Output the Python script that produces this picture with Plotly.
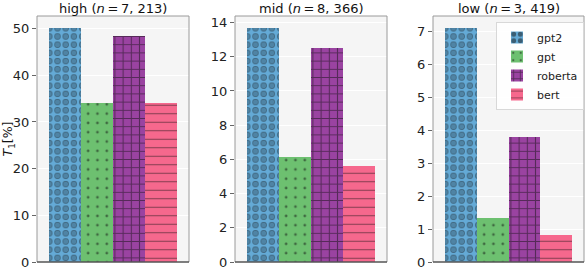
import plotly.graph_objects as go

# ---- data ----
panels = ["high", "mid", "low"]
panel_n = ["7, 213", "8, 366", "3, 419"]
models = ["gpt2", "gpt", "roberta", "bert"]
high_vals = [50.2, 34.1, 48.5, 34.1]
mid_vals = [13.7, 6.15, 12.5, 5.6]
low_vals = [7.1, 1.33, 3.8, 0.82]
y_dticks = [10, 2, 1]

values = [high_vals, mid_vals, low_vals]

colors = {"gpt2": "#64aad6", "gpt": "#6dc070", "roberta": "#9a43a1", "bert": "#f6688d"}
patterns = {
    "gpt2": dict(shape=".", fgcolor="#111111", size=8.2, solidity=0.45),
    "gpt": dict(shape=".", fgcolor="#111111", size=9.3, solidity=0.07),
    "roberta": dict(shape="+", fgcolor="#111111", size=8.2, solidity=0.24),
    "bert": dict(shape="-", fgcolor="#111111", size=8.5, solidity=0.12),
}

W, H = 586, 268
x_doms = [(37, 189), (235, 387), (433, 584)]
y_top, y_bot = 16, 262
ydom = [(H - y_bot) / H, (H - y_top) / H]

fig = go.Figure()
FONT = "DejaVu Sans"

for p, vals in enumerate(values):
    xa = "x" if p == 0 else f"x{p+1}"
    ya = "y" if p == 0 else f"y{p+1}"
    for i, m in enumerate(models):
        pat = dict(patterns[m])
        fig.add_trace(go.Bar(
            x=[i], y=[vals[i]], width=1, name=m, legendgroup=m,
            showlegend=(p == 0),
            marker=dict(color=colors[m], line=dict(width=0), pattern=pat),
            xaxis=xa, yaxis=ya,
        ))
        if m == "gpt2":
            # inner hole of the rings
            fig.add_trace(go.Bar(
                x=[i], y=[vals[i]], width=1, name=m, legendgroup=m,
                showlegend=False,
                marker=dict(color="rgba(0,0,0,0)", line=dict(width=0),
                            pattern=dict(shape=".", fgcolor=colors[m],
                                         bgcolor="rgba(0,0,0,0)",
                                         size=8.2, solidity=0.27)),
                xaxis=xa, yaxis=ya,
            ))

layout = dict(
    width=W, height=H, margin=dict(l=0, r=0, t=0, b=0),
    paper_bgcolor="white", plot_bgcolor="#f5f5f5",
    barmode="overlay", bargap=0,
    font=dict(family=FONT, size=12, color="#222222"),
    legend=dict(x=496 / W, y=(H - 22) / H, xanchor="left", yanchor="top",
                bgcolor="rgba(255,255,255,0.85)", bordercolor="#d8d8d8",
                borderwidth=1, font=dict(size=11, family=FONT),
                tracegroupgap=0, itemwidth=30),
)
annotations = []
shapes = []
for p in range(3):
    sfx = "" if p == 0 else str(p + 1)
    x0, x1 = x_doms[p]
    ymax = max(values[p]) * 1.05
    layout[f"xaxis{sfx}"] = dict(
        domain=[x0 / W, x1 / W], range=[-0.875, 3.875],
        showticklabels=False, ticks="", showgrid=False, zeroline=False,
        showline=False, anchor=f"y{sfx}",
    )
    layout[f"yaxis{sfx}"] = dict(
        domain=ydom, range=[0, ymax], dtick=y_dticks[p], tick0=0,
        showgrid=True, gridcolor="white", gridwidth=1.2, zeroline=False,
        ticks="outside", ticklen=4, tickcolor="#666666", tickwidth=1,
        tickfont=dict(size=13, family=FONT, color="#222222"),
        ticklabeloverflow="allow", automargin=False,
        showline=False, anchor=f"x{sfx}",
    )
    shapes.append(dict(type="rect", xref=f"x{sfx} domain", yref=f"y{sfx} domain",
                       x0=0, x1=1, y0=0, y1=1, line=dict(color="#9a9a9a", width=1),
                       fillcolor="rgba(0,0,0,0)", layer="above"))
    shapes.append(dict(type="line", xref=f"x{sfx} domain", yref=f"y{sfx} domain",
                       x0=0, x1=1, y0=0, y1=0, line=dict(color="#333333", width=1.2),
                       layer="above"))
    annotations.append(dict(
        text=f"{panels[p]} (<i>n</i>&#8201;=&#8201;{panel_n[p]})",
        x=(x0 + x1) / 2 / W, y=1, xref="paper", yref="paper",
        xanchor="center", yanchor="top", showarrow=False, borderpad=0,
        font=dict(size=13, family=FONT, color="#111111"),
    ))

layout["yaxis"]["title"] = dict(
    text="<i>T</i><sub>1</sub>[%]", standoff=4,
    font=dict(size=12.5, family=FONT, color="#111111"),
)
layout["annotations"] = annotations
layout["shapes"] = shapes
fig.update_layout(**layout)

fig.write_html(
    "out.html",
    config={"displayModeBar": False},
    post_script="document.body.style.margin='0';document.body.style.padding='0';",
)
